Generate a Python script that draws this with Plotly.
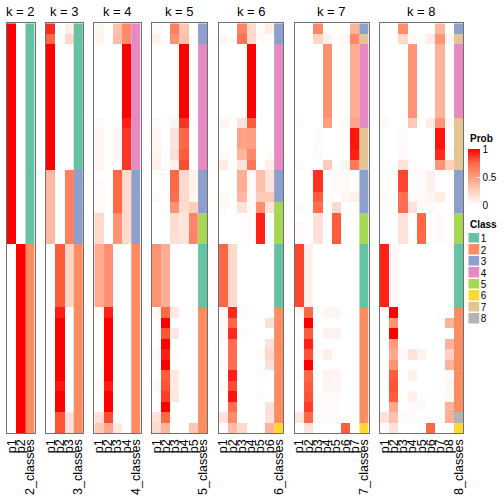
import plotly.graph_objects as go

# ---------------- data ----------------
K_VALUES = [2, 3, 4, 5, 6, 7, 8]

PROB_K2 = [
    [1, 0], [1, 0], [1, 0], [1, 0], [1, 0], [1, 0], [1, 0], [1, 0], [1, 0], [1, 0],
    [1, 0], [1, 0], [1, 0], [1, 0], [1, 0], [1, 0], [1, 0], [1, 0], [1, 0], [1, 0],
    [1, 0],
    [0, 1], [0, 1], [0, 1], [0, 1], [0, 1], [0, 1], [0, 1], [0, 1], [0, 1], [0, 1],
    [0, 1], [0, 1], [0, 1], [0, 1], [0, 1], [0, 1], [0, 1], [0, 1],
]
PROB_K3 = [
    [0.9, 0, 0.08], [0.75, 0, 0.22],
    [1, 0, 0], [1, 0, 0], [1, 0, 0], [1, 0, 0], [1, 0, 0], [1, 0, 0],
    [1, 0, 0], [1, 0, 0], [1, 0, 0], [1, 0, 0], [1, 0, 0], [1, 0, 0],
    [0.36, 0, 0.64], [0.36, 0, 0.64], [0.36, 0, 0.64], [0.36, 0, 0.64],
    [0.36, 0, 0.64], [0.36, 0, 0.64], [0.36, 0, 0.64],
    [0, 0.78, 0.22], [0, 0.78, 0.22], [0, 0.78, 0.22], [0, 0.78, 0.22],
    [0, 0.78, 0.22], [0, 0.78, 0.22],
    [0, 0.93, 0.03], [0, 1, 0], [0, 1, 0], [0, 1, 0], [0, 1, 0], [0, 1, 0],
    [0, 1, 0], [0, 0.95, 0.02], [0, 1, 0], [0, 1, 0],
    [0, 0.8, 0.15], [0, 0.8, 0.15],
]
PROB_K4 = [
    [0.05, 0, 0.32, 0.6], [0.06, 0, 0.35, 0.58],
    [0, 0, 0, 1], [0, 0, 0, 1], [0, 0, 0, 1], [0, 0, 0, 1], [0, 0, 0, 1],
    [0, 0, 0, 1], [0, 0, 0, 1],
    [0.03, 0, 0, 0.93],
    [0.05, 0, 0.04, 0.87], [0.05, 0, 0.04, 0.87], [0.05, 0, 0.04, 0.87],
    [0.05, 0, 0.02, 0.87],
    [0, 0, 0.75, 0.2], [0.03, 0, 0.75, 0.2], [0.03, 0, 0.75, 0.2], [0.03, 0, 0.75, 0.2],
    [0.2, 0, 0.55, 0.2], [0.2, 0, 0.55, 0.2], [0.2, 0, 0.55, 0.2],
    [0.43, 0.57, 0, 0], [0.43, 0.57, 0, 0], [0.43, 0.57, 0, 0], [0.43, 0.57, 0, 0],
    [0.43, 0.57, 0, 0], [0.43, 0.57, 0, 0],
    [0.03, 0.92, 0, 0], [0, 1, 0, 0], [0, 1, 0, 0], [0, 1, 0, 0], [0, 1, 0, 0],
    [0, 1, 0, 0], [0, 1, 0, 0], [0.03, 0.93, 0, 0], [0, 1, 0, 0], [0, 1, 0, 0],
    [0.15, 0.82, 0, 0], [0.28, 0.45, 0.12, 0],
]
PROB_K5 = [
    [0.03, 0, 0.65, 0.3, 0], [0.07, 0, 0.55, 0.32, 0.02],
    [0, 0, 0, 1, 0], [0, 0, 0, 1, 0], [0, 0, 0, 1, 0], [0, 0, 0, 1, 0],
    [0, 0, 0, 1, 0], [0, 0, 0, 1, 0], [0, 0, 0, 1, 0],
    [0.03, 0, 0.05, 0.88, 0.02],
    [0.05, 0, 0.15, 0.75, 0], [0.05, 0, 0.15, 0.75, 0], [0.06, 0, 0.18, 0.78, 0],
    [0.08, 0, 0.08, 0.82, 0],
    [0, 0, 0.75, 0.2, 0.07], [0, 0, 0.75, 0.2, 0.07], [0.03, 0, 0.72, 0.2, 0.05],
    [0, 0, 0.55, 0.18, 0.27],
    [0, 0, 0.18, 0.14, 0.62], [0, 0, 0.18, 0.14, 0.62], [0, 0, 0.16, 0.14, 0.62],
    [0.55, 0.42, 0, 0, 0], [0.55, 0.42, 0, 0, 0], [0.55, 0.42, 0, 0, 0],
    [0.55, 0.42, 0, 0, 0], [0.55, 0.42, 0, 0, 0], [0.55, 0.42, 0, 0, 0],
    [0.03, 0.75, 0.12, 0, 0], [0, 1, 0, 0, 0], [0, 0.8, 0.12, 0, 0],
    [0, 1, 0, 0, 0], [0.03, 0.93, 0.02, 0, 0], [0, 1, 0, 0, 0],
    [0, 0.78, 0.12, 0, 0], [0.03, 0.8, 0.12, 0, 0], [0, 0.85, 0.12, 0, 0],
    [0, 1, 0, 0, 0], [0.15, 0.75, 0, 0, 0], [0.2, 0.38, 0, 0, 0.3],
]
PROB_K6 = [
    [0, 0, 0.62, 0.2, 0.02, 0.1], [0.05, 0, 0.7, 0.2, 0.03, 0],
    [0, 0, 0, 1, 0, 0], [0, 0, 0, 1, 0, 0], [0, 0, 0, 1, 0, 0], [0, 0, 0, 1, 0, 0],
    [0, 0, 0, 1, 0, 0], [0, 0, 0, 1, 0, 0], [0, 0, 0, 1, 0, 0],
    [0.05, 0, 0.15, 0.78, 0, 0],
    [0, 0, 0.48, 0.5, 0, 0], [0, 0, 0.48, 0.5, 0, 0],
    [0.03, 0, 0.38, 0.6, 0, 0.02], [0.1, 0, 0.15, 0.68, 0, 0.08],
    [0, 0, 0.42, 0.03, 0.33, 0.15], [0, 0, 0.42, 0.03, 0.33, 0.15],
    [0.03, 0, 0.37, 0.03, 0.28, 0.28],
    [0.03, 0, 0.15, 0.03, 0.58, 0.15],
    [0, 0, 0, 0.03, 0.92, 0], [0, 0, 0, 0.03, 0.92, 0], [0, 0, 0, 0.03, 0.92, 0],
    [0.75, 0.2, 0, 0, 0, 0], [0.75, 0.2, 0, 0, 0, 0], [0.75, 0.2, 0, 0, 0, 0],
    [0.75, 0.2, 0, 0, 0, 0], [0.75, 0.2, 0, 0, 0, 0], [0.75, 0.2, 0, 0, 0, 0],
    [0.03, 0.9, 0.02, 0, 0, 0], [0.03, 0.75, 0, 0, 0, 0.15],
    [0.03, 0.9, 0.02, 0, 0, 0], [0.03, 0.72, 0, 0, 0, 0.15],
    [0, 0.72, 0, 0, 0.02, 0.2], [0.03, 0.72, 0, 0, 0, 0.15],
    [0, 0.93, 0, 0, 0.02, 0], [0.03, 0.82, 0, 0, 0, 0],
    [0, 0.95, 0, 0, 0.02, 0], [0, 0.72, 0, 0, 0, 0.15],
    [0.15, 0.6, 0, 0, 0, 0.15], [0.02, 0.35, 0.2, 0, 0, 0.4],
]
PROB_K7 = [
    [0, 0, 0.6, 0, 0, 0, 0.4], [0, 0, 0.22, 0.07, 0, 0.05, 0.6],
    [0, 0, 0, 0.57, 0, 0, 0.42], [0, 0, 0, 0.57, 0, 0, 0.42], [0, 0, 0, 0.57, 0, 0, 0.42],
    [0, 0, 0, 0.57, 0, 0, 0.42], [0, 0, 0, 0.57, 0, 0, 0.42], [0, 0, 0, 0.57, 0, 0, 0.42],
    [0, 0, 0, 0.57, 0, 0, 0.42],
    [0.02, 0, 0, 0.5, 0, 0.03, 0.47],
    [0, 0, 0.02, 0, 0, 0, 0.95], [0, 0, 0.02, 0, 0, 0, 0.95], [0, 0, 0.03, 0, 0, 0, 0.92],
    [0.03, 0, 0, 0.27, 0, 0.05, 0.67],
    [0, 0, 0.88, 0, 0.02, 0.03, 0], [0, 0, 0.88, 0, 0.02, 0.03, 0],
    [0, 0, 0.78, 0, 0, 0.05, 0.08], [0.03, 0, 0.72, 0, 0.2, 0, 0],
    [0, 0, 0.15, 0, 0.78, 0, 0], [0.03, 0, 0.15, 0, 0.78, 0, 0], [0.02, 0, 0.15, 0, 0.78, 0, 0],
    [0.83, 0.08, 0, 0, 0, 0, 0], [0.83, 0.08, 0, 0, 0, 0, 0], [0.83, 0.08, 0, 0, 0, 0, 0],
    [0.83, 0.08, 0, 0, 0, 0, 0], [0.83, 0.08, 0, 0, 0, 0, 0], [0.83, 0.08, 0, 0, 0, 0, 0],
    [0.03, 0.75, 0, 0.05, 0.05, 0, 0], [0, 1, 0, 0, 0, 0, 0],
    [0, 0.78, 0, 0.06, 0.06, 0, 0], [0, 0.92, 0.02, 0, 0, 0, 0],
    [0, 0.8, 0.03, 0.08, 0, 0, 0], [0, 1, 0, 0, 0, 0, 0],
    [0.02, 0.75, 0, 0.06, 0.05, 0, 0], [0, 0.78, 0, 0.05, 0.05, 0, 0],
    [0, 0.8, 0.02, 0.02, 0.03, 0, 0], [0, 0.85, 0.02, 0.02, 0.02, 0, 0],
    [0.13, 0.75, 0.02, 0.02, 0.02, 0, 0], [0, 0.15, 0, 0, 0, 0.78, 0],
]
PROB_K8 = [
    [0, 0, 0.58, 0, 0, 0, 0.38, 0], [0, 0, 0.2, 0.03, 0, 0.1, 0.55, 0.05],
    [0, 0, 0, 0.55, 0, 0, 0.4, 0], [0, 0, 0, 0.55, 0, 0, 0.4, 0], [0, 0, 0, 0.55, 0, 0, 0.4, 0],
    [0, 0, 0, 0.55, 0, 0, 0.4, 0], [0, 0, 0, 0.55, 0, 0, 0.4, 0], [0, 0, 0, 0.55, 0, 0, 0.4, 0],
    [0, 0, 0, 0.55, 0, 0, 0.4, 0],
    [0.03, 0, 0, 0.28, 0, 0.1, 0.55, 0.05],
    [0, 0, 0.02, 0, 0, 0, 0.95, 0], [0, 0, 0.02, 0, 0, 0, 0.95, 0],
    [0, 0, 0.03, 0, 0, 0, 0.9, 0.03], [0, 0, 0.15, 0.03, 0, 0, 0.55, 0.25],
    [0, 0, 0.83, 0, 0.02, 0.08, 0, 0], [0, 0, 0.83, 0, 0.02, 0.08, 0, 0],
    [0.03, 0, 0.72, 0.03, 0.03, 0.05, 0.1, 0], [0, 0, 0.72, 0.15, 0.03, 0.03, 0, 0],
    [0, 0, 0.15, 0, 0.75, 0, 0.03, 0], [0, 0, 0.15, 0, 0.75, 0, 0.03, 0],
    [0, 0, 0.15, 0.02, 0.75, 0, 0.03, 0.02],
    [0.92, 0.04, 0, 0, 0, 0, 0, 0], [0.92, 0.04, 0, 0, 0, 0, 0, 0], [0.92, 0.04, 0, 0, 0, 0, 0, 0],
    [0.92, 0.04, 0, 0, 0, 0, 0, 0], [0.92, 0.04, 0, 0, 0, 0, 0, 0], [0.92, 0.04, 0, 0, 0, 0, 0, 0],
    [0, 1, 0, 0, 0, 0, 0, 0], [0, 0.55, 0, 0, 0, 0, 0, 0.4],
    [0, 1, 0, 0, 0, 0, 0, 0], [0, 0.52, 0, 0, 0, 0, 0, 0.4],
    [0, 0.45, 0.03, 0.15, 0.06, 0, 0, 0.25], [0, 0.55, 0, 0, 0, 0, 0, 0.4],
    [0, 0.78, 0, 0.08, 0, 0, 0, 0.02], [0, 0.8, 0, 0, 0, 0, 0, 0.05],
    [0, 0.78, 0, 0.08, 0, 0, 0, 0.03], [0, 0.45, 0, 0.02, 0.03, 0, 0, 0.4],
    [0.15, 0.32, 0.02, 0.02, 0, 0, 0, 0.42], [0.02, 0.15, 0, 0, 0, 0.75, 0, 0],
]

CLASS_K2 = [1,1,1,1,1,1,1,1,1,1,1,1,1,1,1,1,1,1,1,1,1,
            2,2,2,2,2,2,2,2,2,2,2,2,2,2,2,2,2,2]
CLASS_K3 = [1,1,1,1,1,1,1,1,1,1,1,1,1,1,3,3,3,3,3,3,3,
            2,2,2,2,2,2,2,2,2,2,2,2,2,2,2,2,2,2]
CLASS_K4 = [4,4,4,4,4,4,4,4,4,4,4,4,4,4,3,3,3,3,3,3,3,
            2,2,2,2,2,2,2,2,2,2,2,2,2,2,2,2,2,2]
CLASS_K5 = [3,3,4,4,4,4,4,4,4,4,4,4,4,4,3,3,3,3,5,5,5,
            1,1,1,1,1,1,2,2,2,2,2,2,2,2,2,2,2,2]
CLASS_K6 = [3,3,4,4,4,4,4,4,4,4,4,4,4,4,3,3,3,5,5,5,5,
            1,1,1,1,1,1,2,2,2,2,2,2,2,2,2,2,2,6]
CLASS_K7 = [3,7,4,4,4,4,4,4,4,4,7,7,7,7,3,3,3,3,5,5,5,
            1,1,1,1,1,1,2,2,2,2,2,2,2,2,2,2,2,6]
CLASS_K8 = [3,7,4,4,4,4,4,4,4,7,7,7,7,7,3,3,3,3,5,5,5,
            1,1,1,1,1,1,2,2,2,2,2,2,2,2,2,2,8,6]

PROBS = {2: PROB_K2, 3: PROB_K3, 4: PROB_K4, 5: PROB_K5, 6: PROB_K6, 7: PROB_K7, 8: PROB_K8}
CLASSES = {2: CLASS_K2, 3: CLASS_K3, 4: CLASS_K4, 5: CLASS_K5, 6: CLASS_K6, 7: CLASS_K7, 8: CLASS_K8}

CLASS_IDS = [1, 2, 3, 4, 5, 6, 7, 8]
CLASS_LABELS = ["1", "2", "3", "4", "5", "6", "7", "8"]
CLASS_COLORS = ["#66C2A5", "#FC8D62", "#8DA0CB", "#E78AC3",
                "#A6D854", "#FFD92F", "#E5C494", "#B3B3B3"]
PROB_TICKS = [0, 0.5, 1]
PROB_TICK_TEXT = ["0", "0.5", "1"]

# ---------------- styling / layout ----------------
W, H = 504, 504
FONT = "Liberation Sans, Arial, Helvetica, sans-serif"
PROB_SCALE = [[0, "#FFFFFF"], [0.25, "rgb(255,207,191)"], [0.5, "rgb(255,158,129)"],
              [0.75, "rgb(255,104,70)"], [1, "#FF0000"]]
class_scale = []
for i, c in enumerate(CLASS_COLORS):
    class_scale += [[i / 8, c], [(i + 1) / 8, c]]

LEFT0, COLW, GAP = 5.0, 9.33, 11.35
TOP, BOTTOM = 23.3, 433.3
NROWS = len(CLASS_K2)
rows = list(range(NROWS))

fig = go.Figure()
layout = dict(width=W, height=H, margin=dict(l=0, r=0, t=0, b=0),
              paper_bgcolor="white", plot_bgcolor="white", showlegend=False,
              font=dict(family=FONT, color="black"))
annotations = []

xcur = LEFT0
for idx, k in enumerate(K_VALUES):
    n = k + 1
    x0, x1 = xcur, xcur + n * COLW
    xcur = x1 + GAP
    sfx = "" if idx == 0 else str(idx + 1)
    labels = [f"p{j + 1}" for j in range(k)]
    cls_label = f"{k}_classes"
    col_pos = list(range(k))          # column index of each probability column
    fig.add_trace(go.Heatmap(
        z=PROBS[k], x=col_pos, y=rows, colorscale=PROB_SCALE, zmin=0, zmax=1,
        showscale=(k == 8), xaxis="x" + sfx, yaxis="y" + sfx, hoverinfo="skip",
        colorbar=dict(x=470 / W, xanchor="left", y=1 - 149 / H, yanchor="top",
                      len=56, lenmode="pixels", thickness=12, thicknessmode="pixels",
                      xpad=0, ypad=0, outlinewidth=0, tickvals=PROB_TICKS,
                      ticktext=PROB_TICK_TEXT, ticks="inside", ticklen=3,
                      tickcolor="white", tickfont=dict(size=10, family=FONT))))
    fig.add_trace(go.Heatmap(
        z=[[c] for c in CLASSES[k]], x0=k, dx=1, y=rows, colorscale=class_scale,
        zmin=0.5, zmax=8.5, showscale=False, xaxis="x" + sfx, yaxis="y" + sfx,
        hoverinfo="skip"))
    layout["xaxis" + sfx] = dict(
        domain=[x0 / W, x1 / W], anchor="y" + sfx, range=[-0.5, k + 0.5],
        tickmode="array", tickvals=col_pos + [k], ticktext=labels + [cls_label],
        tickangle=-90, ticks="", showgrid=False, zeroline=False,
        showline=True, mirror=True, linecolor="#707070", linewidth=1,
        tickfont=dict(size=12.5, family=FONT, color="black"), fixedrange=True)
    layout["yaxis" + sfx] = dict(
        domain=[1 - BOTTOM / H, 1 - TOP / H], anchor="x" + sfx,
        range=[NROWS - 0.5, -0.5], showticklabels=False, ticks="",
        showgrid=False, zeroline=False, showline=True, mirror=True,
        linecolor="#707070", linewidth=1, fixedrange=True)
    annotations.append(dict(text=f"k = {k}", x=(x0 + x1) / 2 / W, y=1 - 11 / H,
                            xref="paper", yref="paper", xanchor="center",
                            yanchor="middle", showarrow=False,
                            font=dict(size=13, family=FONT, color="black")))

# class legend
fig.add_trace(go.Heatmap(
    z=[[c] for c in CLASS_IDS], x=[0], y=list(range(len(CLASS_IDS))),
    colorscale=class_scale, zmin=0.5, zmax=8.5, showscale=False,
    xaxis="x8", yaxis="y8", ygap=1.5, hoverinfo="skip"))
layout["xaxis8"] = dict(domain=[470 / W, 481.5 / W], anchor="y8", visible=False,
                        range=[-0.5, 0.5], fixedrange=True)
layout["yaxis8"] = dict(domain=[1 - 324.5 / H, 1 - 233 / H], anchor="x8",
                        range=[len(CLASS_IDS) - 0.5, -0.5], side="right",
                        tickmode="array", tickvals=list(range(len(CLASS_IDS))),
                        ticktext=CLASS_LABELS,
                        ticks="", showgrid=False, zeroline=False, showline=False,
                        tickfont=dict(size=10, family=FONT, color="black"),
                        fixedrange=True)

annotations.append(dict(text="<b>Prob</b>", x=470 / W, y=1 - 138 / H, xref="paper",
                        yref="paper", xanchor="left", yanchor="middle",
                        showarrow=False, font=dict(size=10, family=FONT)))
annotations.append(dict(text="<b>Class</b>", x=470 / W, y=1 - 224 / H, xref="paper",
                        yref="paper", xanchor="left", yanchor="middle",
                        showarrow=False, font=dict(size=10, family=FONT)))
layout["annotations"] = annotations

fig.update_layout(**layout)
fig.write_html("out.html", config={"displayModeBar": False},
               post_script="document.body.style.margin='0';")
